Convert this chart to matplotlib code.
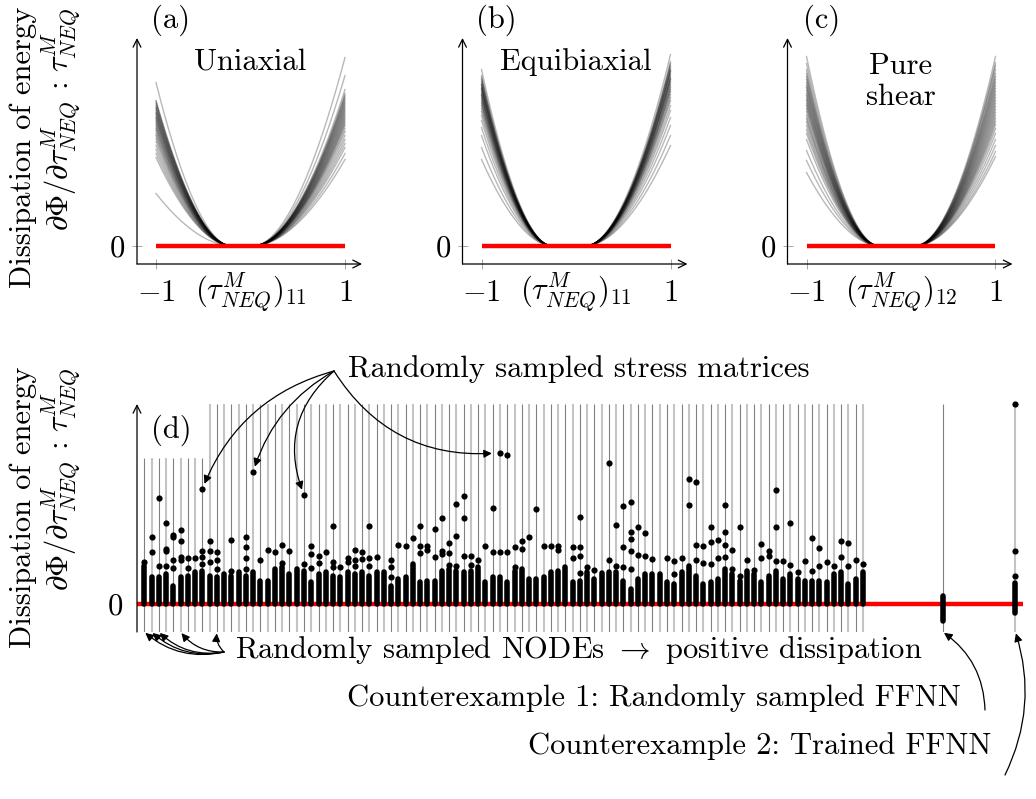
import numpy as np
import matplotlib.pyplot as plt

plt.rcParams['font.family'] = 'cmr10'
plt.rcParams['mathtext.fontset'] = 'cm'
plt.rcParams['axes.unicode_minus'] = False
plt.rcParams['font.size'] = 22

W, H = 1036, 799

# %% data (heights in units of "100 px above zero")
panel_names = ['(a)', '(b)', '(c)']
panel_titles = ['Uniaxial', 'Equibiaxial', 'Pure\nshear']
panel_xlabels = [r'$(\tau^M_{NEQ})_{11}$', r'$(\tau^M_{NEQ})_{11}$', r'$(\tau^M_{NEQ})_{12}$']
# zero dissipation band for each load case (left / right edge)
zero_left = [-0.22, -0.27, -0.25]
zero_right = [0.05, 0.12, 0.17]
# curve heights at tau = -1 and tau = +1
ends_left_a = [1.63, 1.45, 1.44, 1.42, 1.40, 1.38, 1.37, 1.35, 1.33, 1.32, 1.30, 1.28, 1.27, 1.25,
               1.23, 1.21, 1.19, 1.17, 1.15, 1.12, 1.10, 1.07, 1.04, 1.00, 0.96, 0.92, 0.88, 0.52]
ends_right_a = [1.88, 1.56, 1.70, 1.50, 1.52, 1.46, 1.48, 1.42, 1.44, 1.38, 1.40, 1.34, 1.36, 1.30,
                1.32, 1.26, 1.28, 1.22, 1.24, 1.17, 1.20, 1.10, 1.14, 1.02, 1.06, 0.92, 0.98, 0.86]
ends_left_b = [1.76, 1.70, 1.68, 1.66, 1.64, 1.62, 1.61, 1.60, 1.58, 1.57, 1.56, 1.54, 1.52, 1.51,
               1.50, 1.48, 1.46, 1.44, 1.42, 1.40, 1.37, 1.34, 1.30, 1.25, 1.18, 1.10, 0.98, 0.86]
ends_right_b = [1.91, 1.82, 1.84, 1.78, 1.80, 1.75, 1.76, 1.72, 1.74, 1.68, 1.70, 1.66, 1.67, 1.62,
                1.64, 1.58, 1.60, 1.54, 1.56, 1.48, 1.51, 1.40, 1.45, 1.28, 1.35, 1.10, 1.20, 1.00]
ends_left_c = [1.89, 1.82, 1.76, 1.72, 1.69, 1.66, 1.63, 1.60, 1.58, 1.55, 1.52, 1.50, 1.47, 1.45,
               1.42, 1.40, 1.37, 1.34, 1.30, 1.27, 1.24, 1.20, 1.16, 1.12, 1.06, 0.95, 0.85, 0.73]
ends_right_c = [1.89, 1.80, 1.83, 1.72, 1.76, 1.66, 1.69, 1.60, 1.63, 1.54, 1.57, 1.48, 1.51, 1.42,
                1.45, 1.36, 1.39, 1.30, 1.33, 1.24, 1.27, 1.17, 1.21, 1.06, 1.12, 0.94, 1.00, 0.89]
ends_left = [ends_left_a, ends_left_b, ends_left_c]
ends_right = [ends_right_a, ends_right_b, ends_right_c]

# panel (d): 100 sampled NODEs, top of the dense dot stack + the single dots above it
node_stack = [0.38, 0.27, 0.27, 0.30, 0.18, 0.27, 0.28, 0.32, 0.33, 0.28, 0.27, 0.30, 0.28, 0.32,
              0.28, 0.32, 0.23, 0.23, 0.35, 0.37, 0.30, 0.35, 0.33, 0.22, 0.30, 0.32, 0.28, 0.27,
              0.32, 0.30, 0.32, 0.28, 0.32, 0.32, 0.18, 0.25, 0.27, 0.40, 0.22, 0.23, 0.23, 0.33,
              0.35, 0.33, 0.32, 0.33, 0.37, 0.22, 0.27, 0.27, 0.22, 0.33, 0.35, 0.25, 0.25, 0.27,
              0.32, 0.33, 0.37, 0.22, 0.23, 0.32, 0.25, 0.31, 0.32, 0.32, 0.23, 0.15, 0.25, 0.30,
              0.30, 0.30, 0.22, 0.20, 0.32, 0.38, 0.28, 0.20, 0.22, 0.25, 0.35, 0.30, 0.23, 0.33,
              0.30, 0.22, 0.28, 0.33, 0.25, 0.30, 0.25, 0.23, 0.23, 0.23, 0.22, 0.30, 0.32, 0.20,
              0.25, 0.32]
node_dots = [
    [0.42], [0.52, 0.67], [0.38, 1.06], [0.38, 0.53, 0.55, 0.81], [0.36, 0.44, 0.67, 0.69],
    [0.44, 0.47, 0.63, 0.74], [0.36, 0.46], [0.46], [0.40, 0.47, 0.53, 1.15], [0.42, 0.53, 0.63],
    [0.35, 0.44, 0.52], [], [0.33, 0.64], [], [0.35, 0.46, 0.57, 0.67],
    [1.32], [0.44], [0.54], [0.52], [0.41, 0.59],
    [0.53], [], [0.40, 1.09], [0.36, 0.50, 0.58], [0.41, 0.48],
    [0.52], [0.37, 0.42, 0.78], [0.37], [0.42, 0.46], [0.38, 0.44, 0.54],
    [0.45, 0.52], [0.38, 0.46, 0.78], [0.47], [], [0.27, 0.37, 0.44],
    [0.59], [0.58], [0.66], [0.51, 0.58, 0.78], [0.54, 0.58],
    [0.47, 0.75], [0.50, 0.53, 0.86], [0.39, 0.51, 0.61], [0.38, 0.68, 1.00], [0.48, 0.86, 1.08],
    [0.39, 0.48], [0.44], [0.58], [0.52, 0.96], [0.52, 1.51],
    [0.52, 1.49], [0.37, 0.57], [0.55, 0.63], [0.67], [0.95],
    [0.58], [0.58], [0.54, 0.58], [], [0.46, 0.57],
    [0.31, 0.48, 0.57, 0.87], [0.37], [0.34], [], [0.44, 1.41],
    [0.38, 0.79], [0.37, 0.57, 0.98], [0.35, 0.53, 0.65, 0.72, 1.02], [0.49, 0.77], [0.48, 0.71],
    [0.45], [], [0.46], [0.30, 0.43], [0.46],
    [0.99, 1.25], [0.44, 0.59, 1.22], [0.41, 0.58], [0.40, 0.62, 0.77], [0.46, 0.64],
    [0.47, 0.59, 0.72, 0.99], [0.35, 0.54], [0.28, 0.77], [0.44], [0.34],
    [0.46, 0.60], [0.48, 0.53], [0.43, 0.77, 1.14], [0.43], [0.39, 0.81],
    [0.32], [0.43], [0.33, 0.66], [0.38, 0.56], [0.42],
    [0.38], [0.47, 0.63], [0.38, 0.61], [0.44], [0.40],
]
short_cols = 9          # the first NODEs have a shorter guide line
# counterexamples (FFNN)
ffnn_pos = [110, 120]
ffnn_low = [-0.17, -0.09]
ffnn_high = [0.08, 0.21]
ffnn_dots = [[], [0.28, 0.53, 2.00]]
# dots picked out by the "stress matrices" arrows
picked_cols = [8, 15, 22, 49]
picked_nodes = [1, 0, 2, 5, 10]

# %% helpers
fig = plt.figure(figsize=(W / 100, H / 100), dpi=100)


def box(l, t, r, b):
    return fig.add_axes([l / W, 1 - b / H, (r - l) / W, (b - t) / H])


def fxy(x, y):
    return x / W, 1 - y / H


def axis_arrow(ax, start, end):
    ax.annotate('', xy=end, xytext=start, xycoords='axes fraction',
                arrowprops=dict(arrowstyle='->', lw=0.9, color='k', shrinkA=0, shrinkB=0,
                                mutation_scale=14), annotation_clip=False)


def lbl(x, y, s, **kw):
    fig.text(*fxy(x, y), s, ha='center', va='center', **kw)


# %% panels (a)-(c)
x_grid = np.linspace(-1, 1, 300)
for k, x0 in enumerate([137, 462.5, 787.5]):
    ax = box(x0, 38, x0 + 225, 264)
    ax.set_xlim(-1 - 19 / 94.5, 1 + 17 / 94.5)
    ax.set_ylim(-0.185, 2.075)
    for sp in ax.spines.values():
        sp.set_visible(False)
    ax.set_xticks([-1, 1])
    ax.set_xticklabels(['$-1$', '$1$'])
    ax.set_yticks([0])
    ax.set_yticklabels(['$0$'])
    ax.tick_params(direction='inout', length=7, width=0.6, color='0.6')
    ax.tick_params(axis='x', pad=8)
    ax.tick_params(axis='y', pad=5)
    axis_arrow(ax, (0, 0), (1, 0))
    axis_arrow(ax, (0, 0), (0, 1))

    a, b = zero_left[k], zero_right[k]
    for hl, hr in zip(ends_left[k], ends_right[k]):
        y = np.where(x_grid < a, hl * np.clip((a - x_grid) / (a + 1), 0, None) ** 1.8, 0.0)
        y = np.where(x_grid > b, hr * np.clip((x_grid - b) / (1 - b), 0, None) ** 1.8, y)
        ax.plot(x_grid, y, color='k', lw=1.0, alpha=0.28)
    ax.plot([-1, 1], [0, 0], color='red', lw=3.2, solid_capstyle='butt', zorder=5)

    ty = 1.835 if k < 2 else 1.64
    ax.text(0, ty, panel_titles[k], ha='center', va='center', linespacing=1.15)
    ax.text(0, -0.465, panel_xlabels[k], ha='center', va='center', clip_on=False)
    lbl(x0 + 34, 20, panel_names[k])

# %% panel (d)
ax = box(137, 404, 137 + 122 * 7.26, 632)
ax.set_xlim(-1, 121)
ax.set_ylim(-0.28, 2.0)
for sp in ax.spines.values():
    sp.set_visible(False)
ax.set_xticks([])
ax.set_yticks([0])
ax.set_yticklabels(['$0$'])
ax.tick_params(axis='y', direction='inout', length=0, pad=10)
axis_arrow(ax, (0, 0), (0, 1))

cols = np.arange(len(node_stack))
line_top = np.where(cols < short_cols, 1.46, 2.0)
line_col = ['#808080' if c % 2 == 0 else '#c4c4c4' for c in cols]
line_w = [0.8 if c % 2 == 0 else 1.5 for c in cols]
ax.vlines(cols, -0.28, line_top, colors=line_col, linewidths=line_w, zorder=1)
ax.vlines(ffnn_pos, -0.28, 2.0, colors=['#808080', '#c4c4c4'], linewidths=[0.8, 1.5], zorder=1)

ax.plot([-1, 121], [0, 0], color='red', lw=3.2, solid_capstyle='butt', zorder=2)

stack = ax.vlines(cols, 0, node_stack, colors='k', linewidths=4.0, zorder=3)
stack.set_capstyle('round')
ffnn_stack = ax.vlines(ffnn_pos, ffnn_low, ffnn_high, colors='k', linewidths=4.0, zorder=3)
ffnn_stack.set_capstyle('round')

dot_x = [c for c, d in zip(cols, node_dots) for _ in d] + \
        [p for p, d in zip(ffnn_pos, ffnn_dots) for _ in d]
dot_y = [v for d in node_dots for v in d] + [v for d in ffnn_dots for v in d]
ax.scatter(dot_x, dot_y, s=20, color='k', lw=0, zorder=4, clip_on=False)

lbl(171, 430, '(d)')

# annotations
arrow_kw = dict(arrowstyle='-|>', lw=0.9, color='k', shrinkA=0, mutation_scale=12)
for c, rad in zip(picked_cols, [0.25, 0.2, 0.35, 0.3]):
    val = max(node_dots[c])
    tip = (c - 0.35, val) if c == 49 else (c, val)
    ax.annotate('', xy=tip, xytext=(334, H - 371), textcoords='figure pixels',
                arrowprops=dict(connectionstyle=f'arc3,rad={rad}', shrinkB=4, **arrow_kw),
                annotation_clip=False)
for c in picked_nodes:
    ax.annotate('', xy=(c, -0.28), xytext=(224, H - 652), textcoords='figure pixels',
                arrowprops=dict(connectionstyle='arc3,rad=-0.25', shrinkB=1, **arrow_kw),
                annotation_clip=False)
ax.annotate('', xy=(ffnn_pos[0], -0.28), xytext=(985, H - 710), textcoords='figure pixels',
            arrowprops=dict(connectionstyle='arc3,rad=0.25', shrinkB=1, **arrow_kw),
            annotation_clip=False)
ax.annotate('', xy=(ffnn_pos[1], -0.28), xytext=(1005, H - 775), textcoords='figure pixels',
            arrowprops=dict(connectionstyle='arc3,rad=0.2', shrinkB=1, **arrow_kw),
            annotation_clip=False)

lbl(579, 369, 'Randomly sampled stress matrices')
lbl(579, 650, r'Randomly sampled NODEs $\rightarrow$ positive dissipation')
lbl(654, 698, 'Counterexample 1: Randomly sampled FFNN')
lbl(760, 746, 'Counterexample 2: Trained FFNN')

# y labels
for top in [7, 367]:
    fig.text(*fxy(23, top), 'Dissipation of energy', rotation=90, ha='center', va='top')
    fig.text(*fxy(61, top), r'$\partial\Phi/\partial\tau^M_{NEQ}\,:\,\tau^M_{NEQ}$',
             rotation=90, ha='center', va='top')

fig.savefig('out.png', dpi=100)
